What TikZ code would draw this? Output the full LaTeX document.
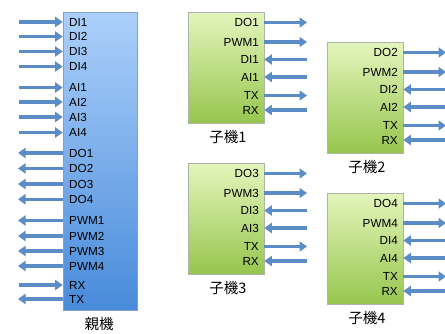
\documentclass[tikz,border=0pt]{standalone}
\usepackage{fontspec}
\setmainfont{Liberation Sans}
\newfontfamily\cjk{Noto Sans CJK JP}
\usetikzlibrary{arrows.meta}
\definecolor{arr}{RGB}{92,140,198}
\definecolor{ptop}{RGB}{172,208,251}
\definecolor{pbot}{RGB}{72,139,218}
\definecolor{pbrd}{RGB}{130,160,200}
\definecolor{ctop}{RGB}{228,245,188}
\definecolor{cbot}{RGB}{150,198,78}
\definecolor{cbrd}{RGB}{175,180,170}
\begin{document}
\begin{tikzpicture}[x=1pt,y=-1pt,
  sig/.style={line width=3.1pt, draw=arr, -{Triangle[length=7.5pt,width=10pt]}},
  lbl/.style={font=\fontsize{11.7}{12}\selectfont, inner sep=0pt},
  captext/.style={font=\cjk\fontsize{14.5}{16}\selectfont, inner sep=0pt},
  parentbox/.style={draw=pbrd, line width=0.6pt, top color=ptop, bottom color=pbot, minimum width=74pt, minimum height=298pt, inner sep=0pt},
  childbox/.style={draw=cbrd, line width=0.6pt, top color=ctop, bottom color=cbot, minimum width=76pt, minimum height=111pt, inner sep=0pt}]
\useasboundingbox (0,0) rectangle (445,333);
% parent
\node[parentbox] (pbox) at (100,161) {};
\node[captext] (plabel) at (99,324) {親機};
\foreach \t/\y in {DI1/22, DI2/36.5, DI3/51.5, DI4/66.5, AI1/87.5, AI2/102, AI3/117, AI4/132.5, RX/285} {
  \node[lbl, anchor=west] (p\t) at (69,\y) {\t};
  \coordinate (q\t) at (19,\y);
  \draw[sig] (q\t) -- (pbox.west |- q\t);
}
\foreach \t/\y in {DO1/153, DO2/168.5, DO3/184, DO4/199.3, PWM1/220.5, PWM2/236, PWM3/251, PWM4/266, TX/299} {
  \node[lbl, anchor=west] (p\t) at (69,\y) {\t};
  \coordinate (q\t) at (18,\y);
  \draw[sig] (pbox.west |- q\t) -- (q\t);
}
% children
\foreach \n/\dx/\dy in {1/0/0, 2/139/30, 3/0/151, 4/139/181} {
  \node[childbox] (c\n) at (226+\dx,67.5+\dy) {};
  \node[captext] (cl\n) at (228+\dx,137+\dy) {子機\n};
  \foreach \t/\y in {DO\n/22.5, PWM\n/42, TX/95.5} {
    \node[lbl, anchor=east] (c\n\t) at (259+\dx,\y+\dy) {\t};
    \coordinate (e\n\t) at (307+\dx,\y+\dy);
    \draw[sig] (c\n.east |- e\n\t) -- (e\n\t);
  }
  \foreach \t/\y in {DI\n/59.5, AI\n/77, RX/110} {
    \node[lbl, anchor=east] (c\n\t) at (259+\dx,\y+\dy) {\t};
    \coordinate (e\n\t) at (307+\dx,\y+\dy);
    \draw[sig] (e\n\t) -- (c\n.east |- e\n\t);
  }
}
\end{tikzpicture}
\end{document}
